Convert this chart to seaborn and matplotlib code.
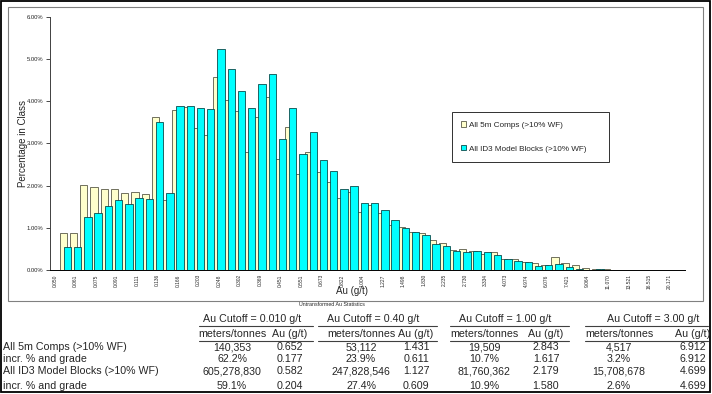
import numpy as np
import pandas as pd
import matplotlib
matplotlib.use("Agg")
import matplotlib.pyplot as plt
import seaborn as sns
from matplotlib.patches import Rectangle
from matplotlib.lines import Line2D
from matplotlib.ticker import FuncFormatter

# ---------------- data ----------------
bins = ["0.050", "0.055", "0.061", "0.067", "0.075", "0.082", "0.091", "0.101",
        "0.111", "0.123", "0.136", "0.150", "0.166", "0.183", "0.203", "0.224",
        "0.248", "0.274", "0.302", "0.334", "0.369", "0.408", "0.451", "0.499",
        "0.551", "0.609", "0.673", "0.744", "0.822", "0.909", "1.004", "1.110",
        "1.227", "1.356", "1.498", "1.656", "1.830", "2.023", "2.235", "2.470",
        "2.730", "3.017", "3.334", "3.685", "4.073", "4.501", "4.974", "5.497",
        "6.076", "6.715", "7.421", "8.201", "9.064", "10.017", "11.070", "12.234",
        "13.521", "14.943", "16.515", "18.251", "20.171", "22.292"]

comps_pct = [0.00, 0.88, 0.88, 2.01, 1.96, 1.93, 1.93, 1.82, 1.85, 1.79,
             3.63, 1.65, 3.79, 3.86, 3.37, 3.20, 4.56, 4.02, 3.77, 2.80,
             3.63, 4.09, 2.64, 3.39, 2.28, 2.80, 2.31, 2.08, 1.70, 1.85,
             1.37, 1.54, 1.34, 1.07, 1.01, 0.89, 0.88, 0.70, 0.64, 0.47,
             0.50, 0.46, 0.37, 0.42, 0.27, 0.26, 0.19, 0.17, 0.12, 0.30,
             0.16, 0.11, 0.04, 0.03, 0.02, 0.01, 0.01, 0.00, 0.00, 0.00,
             0.00, 0.00]

blocks_pct = [0.00, 0.54, 0.54, 1.26, 1.34, 1.52, 1.65, 1.56, 1.71, 1.69,
              3.51, 1.82, 3.89, 3.89, 3.83, 3.81, 5.24, 4.77, 4.23, 3.83,
              4.40, 4.64, 3.10, 3.83, 2.74, 3.28, 2.61, 2.35, 1.93, 1.99,
              1.59, 1.59, 1.42, 1.19, 0.99, 0.89, 0.84, 0.62, 0.56, 0.46,
              0.43, 0.45, 0.42, 0.36, 0.27, 0.21, 0.20, 0.09, 0.13, 0.14,
              0.06, 0.03, 0.01, 0.02, 0.01, 0.00, 0.00, 0.00, 0.00, 0.00,
              0.00, 0.00]

tick_labels = bins[::2]
series_names = ["All 5m Comps (>10% WF)", "All ID3 Model Blocks (>10% WF)"]

table_title = "Untransformed Au Statistics"
row_labels = ["All 5m Comps (>10% WF)", "incr. % and grade",
              "All ID3 Model Blocks (>10% WF)", "incr. % and grade"]
cutoff_titles = ["Au Cutoff = 0.010 g/t", "Au Cutoff = 0.40 g/t",
                 "Au Cutoff = 1.00 g/t", "Au Cutoff = 3.00 g/t"]
col_headers = ["meters/tonnes", "Au (g/t)"]
tonnes = [["140,353", "62.2%", "605,278,830", "59.1%"],
          ["53,112", "23.9%", "247,828,546", "27.4%"],
          ["19,509", "10.7%", "81,760,362", "10.9%"],
          ["4,517", "3.2%", "15,708,678", "2.6%"]]
grades = [["0.652", "0.177", "0.582", "0.204"],
          ["1.431", "0.611", "1.127", "0.609"],
          ["2.843", "1.617", "2.179", "1.580"],
          ["6.912", "6.912", "4.699", "4.699"]]

# ---------------- style ----------------
sns.set_style("white")
plt.rcParams["font.family"] = ["Liberation Sans", "DejaVu Sans"]

W, H = 712, 394
fig = plt.figure(figsize=(W / 100, H / 100), dpi=100)
fig.patch.set_facecolor("white")

def fx(px):
    return px / W

def fy(py):
    return 1 - py / H

ax = fig.add_axes([fx(50), fy(270), (685 - 50) / W, (270 - 16.7) / H])

df = pd.DataFrame({"pos": np.arange(len(bins)),
                   "comps": np.array(comps_pct) / 100.0,
                   "blocks": np.array(blocks_pct) / 100.0})

BEIGE = "#FFFFCC"
CYAN = "#00FFFF"
sns.barplot(x=df["pos"] - 0.2, y=df["comps"], native_scale=True, width=0.72,
            color=BEIGE, saturation=1, edgecolor="#5a5a48", linewidth=0.6,
            errorbar=None, label=series_names[0], ax=ax)
sns.barplot(x=df["pos"] + 0.2, y=df["blocks"], native_scale=True, width=0.72,
            color=CYAN, saturation=1, edgecolor="#0b4b4b", linewidth=0.6,
            errorbar=None, label=series_names[1], ax=ax)

ax.set_xlim(-0.5, len(bins) - 0.5)
ax.set_ylim(0, 0.06)
ax.set_yticks(np.arange(0, 0.0601, 0.01))
ax.yaxis.set_major_formatter(FuncFormatter(lambda v, p: f"{v*100:.2f}%"))
ax.set_xticks(df["pos"].values[::2])
ax.set_xticklabels(tick_labels, rotation=90, fontsize=3.5)
ax.set_xticks(np.arange(-0.5, len(bins), 1.0), minor=True)
ax.tick_params(axis="x", which="major", length=0, pad=3)
ax.tick_params(axis="x", which="minor", length=3, width=0.5, direction="inout",
               color="black")
ax.tick_params(axis="y", which="major", length=3, width=0.5, direction="out",
               labelsize=4.2, pad=2, color="black", left=True)
for s in ["top", "right"]:
    ax.spines[s].set_visible(False)
ax.spines["left"].set_color("#404040")
ax.spines["left"].set_linewidth(0.7)
ax.spines["bottom"].set_color("black")
ax.spines["bottom"].set_linewidth(0.7)
ax.grid(False)

ax.set_xlabel("Au (g/t)", fontsize=7)
ax.xaxis.set_label_coords((352 - 50) / 635, -(286 - 270) / 253.3)
ax.set_ylabel("Percentage in Class", fontsize=7)
ax.yaxis.set_label_coords(-(50 - 28) / 635, 0.5)

handles, labels = ax.get_legend_handles_labels()
leg = ax.legend(handles, labels, loc="center", mode="expand",
                bbox_to_anchor=(fx(452), fy(163), (609 - 452) / W, (163 - 111) / H),
                bbox_transform=fig.transFigure, fontsize=5.9, frameon=True,
                fancybox=False, framealpha=1, edgecolor="#303030",
                borderpad=1.1, labelspacing=2.0, handlelength=0.6,
                handleheight=0.6, handletextpad=0.35, borderaxespad=0)
leg.get_frame().set_linewidth(0.7)

# chart area border and outer border
fig.add_artist(Rectangle((fx(8), fy(301)), (703 - 8) / W, (301 - 7) / H,
                         transform=fig.transFigure, fill=False,
                         edgecolor="#808080", linewidth=0.8))
fig.add_artist(Rectangle((fx(1), fy(392)), (710 - 1) / W, (392 - 1) / H,
                         transform=fig.transFigure, fill=False,
                         edgecolor="black", linewidth=1.3))

# ---------------- statistics table ----------------
TFS = 7.7
fig.text(fx(332), fy(305), table_title, fontsize=3.8, ha="center", va="center")
row_y = [347, 359, 371, 386]
for lab, yy in zip(row_labels, row_y):
    fig.text(fx(3), fy(yy), lab, fontsize=TFS, ha="left", va="center")

title_x = [252, 373, 505, 653]
mt_x = [232, 361, 484, 619]
au_x = [290, 416, 546, 693]
line_span = [(199, 313), (318, 437), (450, 569), (585, 708)]
for g in range(4):
    fig.text(fx(title_x[g]), fy(319), cutoff_titles[g], fontsize=TFS,
             ha="center", va="center")
    fig.text(fx(mt_x[g]), fy(334), col_headers[0], fontsize=TFS,
             ha="center", va="center")
    fig.text(fx(au_x[g]), fy(334), col_headers[1], fontsize=TFS,
             ha="center", va="center")
    x0, x1 = line_span[g]
    for ly in (325.5, 341):
        fig.add_artist(Line2D([fx(x0), fx(x1)], [fy(ly), fy(ly)],
                              transform=fig.transFigure, color="#404040",
                              linewidth=0.8))
    for r in range(4):
        fig.text(fx(mt_x[g]), fy(row_y[r]), tonnes[g][r], fontsize=TFS,
                 ha="center", va="center")
        fig.text(fx(au_x[g]), fy(row_y[r]), grades[g][r], fontsize=TFS,
                 ha="center", va="center")

fig.savefig("out.png", dpi=100, facecolor="white")
